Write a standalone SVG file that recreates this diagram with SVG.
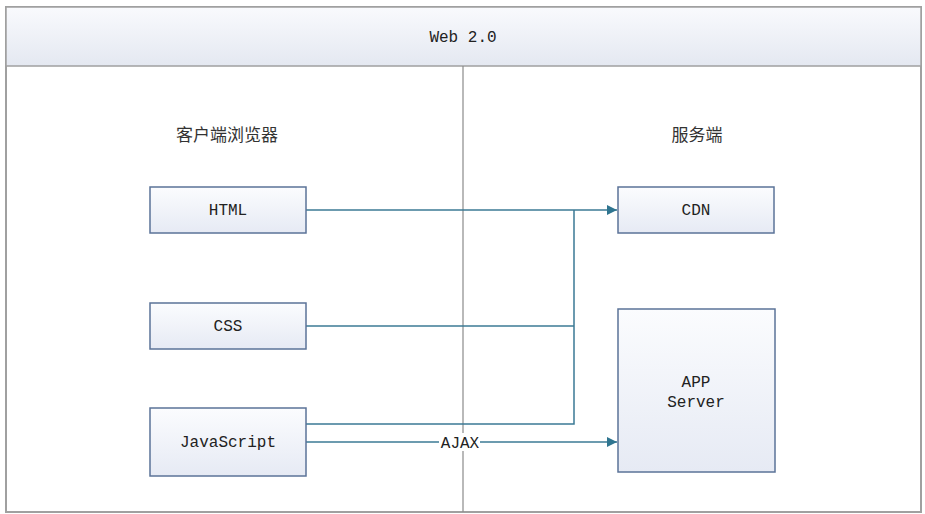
<svg xmlns="http://www.w3.org/2000/svg" width="925" height="514" viewBox="0 0 925 514">
<defs>
<linearGradient id="hdr" x1="0" y1="0" x2="0" y2="1"><stop offset="0" stop-color="#f9fafd"/><stop offset="1" stop-color="#e4e8f1"/></linearGradient>
<linearGradient id="box" x1="0" y1="0" x2="0" y2="1"><stop offset="0" stop-color="#fbfcfe"/><stop offset="1" stop-color="#e6eaf4"/></linearGradient>
<marker id="arr" viewBox="0 0 10 10" refX="10" refY="5" markerWidth="10" markerHeight="10" markerUnits="userSpaceOnUse" orient="auto"><path d="M0,0 L10,5 L0,10 z" fill="#2f7590"/></marker>
<style>
.frame{fill:#fff;stroke:#a0a0a0;stroke-width:2}
.hdr{fill:url(#hdr);stroke:#a0a0a0;stroke-width:1.5}
.div{stroke:#8a8a8a;stroke-width:1.2}
.node{fill:url(#box);stroke:#5b7398;stroke-width:1.5}
.t{font-family:"Liberation Mono",monospace;font-size:16px;fill:#222;text-anchor:middle}
.cn{font-family:"Noto Sans CJK SC",sans-serif;font-size:17px;fill:#333;text-anchor:middle}
.c{fill:none;stroke:#3b7a95;stroke-width:1.5}
</style>
</defs>
<rect class="frame" x="6" y="7" width="915" height="505"/>
<g id="header"><rect class="hdr" x="6" y="7" width="915" height="59"/><text class="t" x="463" y="42">Web 2.0</text></g>
<line class="div" x1="463" y1="66" x2="463" y2="512"/>
<g id="label-client"><text class="cn" x="227" y="141">客户端浏览器</text></g>
<g id="label-server"><text class="cn" x="697" y="141">服务端</text></g>
<g id="connectors">
<path class="c" d="M306,210 H617" marker-end="url(#arr)"/>
<path class="c" d="M306,326 H574"/>
<path class="c" d="M306,424 H574 V210"/>
<path class="c" d="M306,442 H617" marker-end="url(#arr)"/>
<rect x="439" y="433" width="41" height="18" fill="#fff"/>
<text class="t" x="460" y="448">AJAX</text>
</g>
<g id="html"><rect class="node" x="150" y="187" width="156" height="46"/><text class="t" x="228" y="215">HTML</text></g>
<g id="css"><rect class="node" x="150" y="303" width="156" height="46"/><text class="t" x="228" y="331">CSS</text></g>
<g id="javascript"><rect class="node" x="150" y="408" width="156" height="68"/><text class="t" x="228" y="447">JavaScript</text></g>
<g id="cdn"><rect class="node" x="618" y="187" width="156" height="46"/><text class="t" x="696" y="215">CDN</text></g>
<g id="appserver"><rect class="node" x="618" y="309" width="157" height="163"/><text class="t" x="696" y="387">APP</text><text class="t" x="696" y="407">Server</text></g>
</svg>
